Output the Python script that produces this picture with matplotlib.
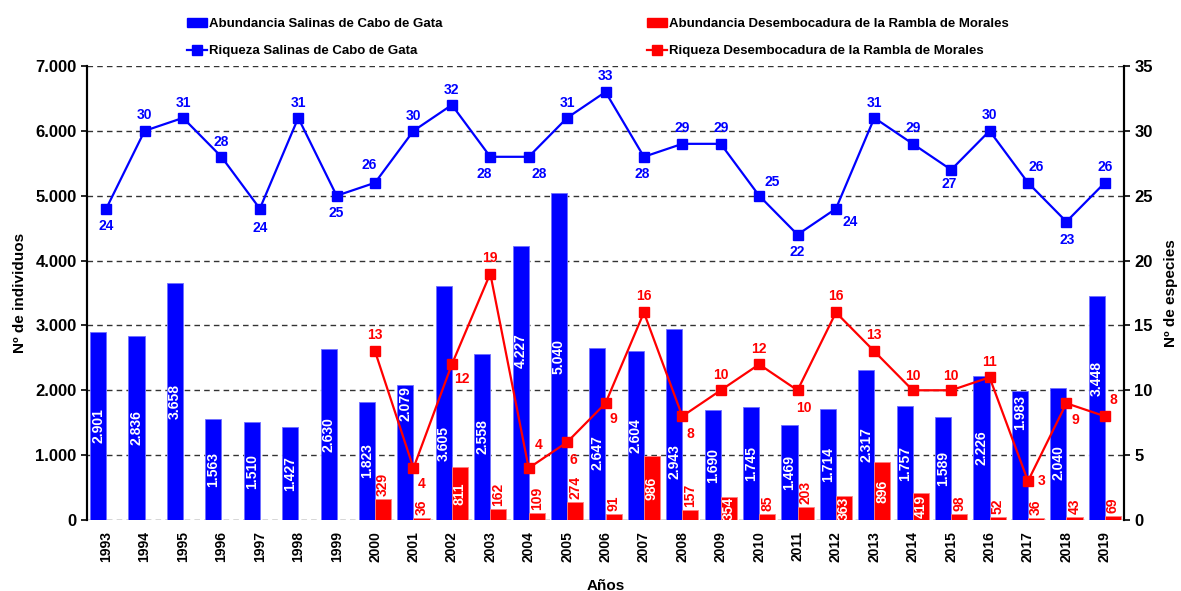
import matplotlib.pyplot as plt
import numpy as np
from matplotlib import font_manager
from matplotlib.lines import Line2D
from matplotlib.patches import Patch
from matplotlib.ticker import FuncFormatter, MultipleLocator

# Datos del gráfico
years = list(range(1993, 2020))
abund_salinas = [2901, 2836, 3658, 1563, 1510, 1427, 2630, 1823, 2079, 3605, 2558, 4227, 5040, 2647,
                 2604, 2943, 1690, 1745, 1469, 1714, 2317, 1757, 1589, 2226, 1983, 2040, 3448]
riq_salinas = [24, 30, 31, 28, 24, 31, 25, 26, 30, 32, 28, 28, 31, 33, 28, 29, 29, 25, 22, 24,
               31, 29, 27, 30, 26, 23, 26]
years_rambla = list(range(2000, 2020))
abund_rambla = [329, 36, 811, 162, 109, 274, 91, 986, 157, 354, 85, 203, 363, 896, 419, 98, 52, 36, 43, 69]
riq_rambla = [13, 4, 12, 19, 4, 6, 9, 16, 8, 10, 12, 10, 16, 13, 10, 10, 11, 3, 9, 8]

# Colocación de las etiquetas (desplazamientos en píxeles)
off_bar_salinas = [0, 0, 0, 0, 0, 0, 0, 0, 49, -40, 0, 32, 0, -18, 0, -37, 0, 0, 0, 0,
                   0, 0, 0, 0, 43, -9, 30]
off_salinas = [(0, -17), (0, 16), (0, 15), (0, 15), (0, -19), (0, 15), (0, -17), (-6, 18), (0, 15), (0, 15),
               (-6, -17), (11, -17), (0, 15), (0, 16), (-2, -17), (0, 16), (0, 16), (13, 14), (0, -17), (14, -13),
               (0, 15), (0, 16), (-2, -14), (0, 16), (8, 16), (1, -18), (0, 16)]
off_rambla = [(0, 16), (8, -16), (10, -15), (0, 16), (10, 23), (6, -18), (8, -16), (0, 16), (8, -18), (0, 15),
              (0, 15), (6, -18), (0, 16), (0, 16), (0, 14), (0, 14), (0, 15), (14, 0), (9, -17), (9, 16)]

BLUE = '#0000ff'
RED = '#ff0000'

plt.rcParams['font.family'] = ['Liberation Sans', 'DejaVu Sans']
plt.rcParams['font.weight'] = 'bold'

fig = plt.figure(figsize=(11.81, 5.91), dpi=100)
ax = fig.add_axes([87 / 1181, 1 - 520 / 591, (1124 - 87) / 1181, (520 - 66) / 591])
ax2 = ax.twinx()

x = np.arange(len(years))
xr = np.array([years.index(y) for y in years_rambla])
w = 0.42

ax.set_zorder(1)
ax.patch.set_visible(False)

ax.bar(x - w / 2, abund_salinas, w, color=BLUE, edgecolor='#6f6fff', linewidth=0.6, zorder=2)
ax.bar(xr + w / 2, abund_rambla, w, color=RED, edgecolor='#ff8080', linewidth=0.6, zorder=2)

for xi, v, dy in zip(x, abund_salinas, off_bar_salinas):
    ax.annotate(f'{v:,}'.replace(',', '.'), (xi - w / 2, v / 2), xytext=(0, dy), textcoords='offset pixels',
                rotation=90, ha='center', va='center', color='white', fontsize=10, fontweight='bold', zorder=5)
for xi, v in zip(xr, abund_rambla):
    if v >= 350:
        ax.annotate(str(v), (xi + w / 2, v / 2), rotation=90, ha='center', va='center',
                    color='white', fontsize=10, fontweight='bold', zorder=5)
    else:
        ax.annotate(str(v), (xi + w / 2, v), xytext=(0, 3), textcoords='offset pixels',
                    rotation=90, ha='center', va='bottom', color=RED, fontsize=10, fontweight='bold', zorder=5)

# Riqueza (eje secundario), dibujada en el eje principal con la misma escala
scale = 7000 / 35
ax.plot(x, np.array(riq_salinas) * scale, color=BLUE, lw=1.6, marker='s', ms=6.5, zorder=4)
ax.plot(xr, np.array(riq_rambla) * scale, color=RED, lw=1.6, marker='s', ms=6.5, zorder=4)
for xi, v, (dx, dy) in zip(x, riq_salinas, off_salinas):
    ax.annotate(str(v), (xi, v * scale), xytext=(dx, dy), textcoords='offset pixels',
                ha='center', va='center', color=BLUE, fontsize=10, fontweight='bold', zorder=6)
for xi, v, (dx, dy) in zip(xr, riq_rambla, off_rambla):
    ax.annotate(str(v), (xi, v * scale), xytext=(dx, dy), textcoords='offset pixels',
                ha='center', va='center', color=RED, fontsize=10, fontweight='bold', zorder=6)

ax.set_xlim(-0.5, len(years) - 0.5)
ax.set_ylim(0, 7000)
ax2.set_ylim(0, 35)
ax.yaxis.set_major_locator(MultipleLocator(1000))
ax2.yaxis.set_major_locator(MultipleLocator(5))
ax.yaxis.set_major_formatter(FuncFormatter(lambda v, p: f'{int(v):,}'.replace(',', '.')))
ax.grid(axis='y', color='#333333', linestyle=(0, (4, 3)), linewidth=1.0)
ax.set_axisbelow(True)

ax.set_xticks(x)
ax.set_xticklabels([str(y) for y in years], rotation=90, fontsize=10, fontweight='bold')
ax.tick_params(axis='x', length=0, pad=8)
ax.tick_params(axis='y', labelsize=12, length=4, width=1.2, direction='out')
ax2.tick_params(axis='y', labelsize=12, length=4, width=1.2, direction='out')
for lab in ax.get_yticklabels() + ax2.get_yticklabels():
    lab.set_fontweight('bold')

for a in (ax, ax2):
    a.spines['top'].set_visible(False)
    a.spines['bottom'].set_visible(False)
    a.spines['left'].set_linewidth(1.5)
    a.spines['right'].set_linewidth(1.5)

ax.set_ylabel('Nº de individuos', fontsize=11, fontweight='bold', labelpad=6)
ax2.set_ylabel('Nº de especies', fontsize=11, fontweight='bold', labelpad=8)
ax.set_xlabel('Años', fontsize=11, fontweight='bold', labelpad=12)

# Leyenda con fuente estrecha si está disponible
names = {f.name for f in font_manager.fontManager.ttflist}
if 'Liberation Sans Narrow' in names:
    legend_font = {'family': 'Liberation Sans Narrow', 'weight': 'bold', 'size': 11}
else:
    legend_font = {'family': 'Liberation Sans', 'weight': 'bold', 'size': 9.5}
h1 = [Patch(color=BLUE), Line2D([], [], color=BLUE, lw=1.6, marker='s', ms=6.5)]
h2 = [Patch(color=RED), Line2D([], [], color=RED, lw=1.6, marker='s', ms=6.5)]
fig.legend(h1, ['Abundancia Salinas de Cabo de Gata', 'Riqueza Salinas de Cabo de Gata'],
           loc='upper left', bbox_to_anchor=(182 / 1181, 1 - 13 / 591), frameon=False, prop=legend_font,
           handlelength=1.5, handleheight=0.6, handletextpad=0.15, labelspacing=1.15, borderaxespad=0)
fig.legend(h2, ['Abundancia Desembocadura de la Rambla de Morales', 'Riqueza Desembocadura de la Rambla de Morales'],
           loc='upper left', bbox_to_anchor=(642 / 1181, 1 - 13 / 591), frameon=False, prop=legend_font,
           handlelength=1.5, handleheight=0.6, handletextpad=0.15, labelspacing=1.15, borderaxespad=0)

fig.savefig('out.png', dpi=100)
